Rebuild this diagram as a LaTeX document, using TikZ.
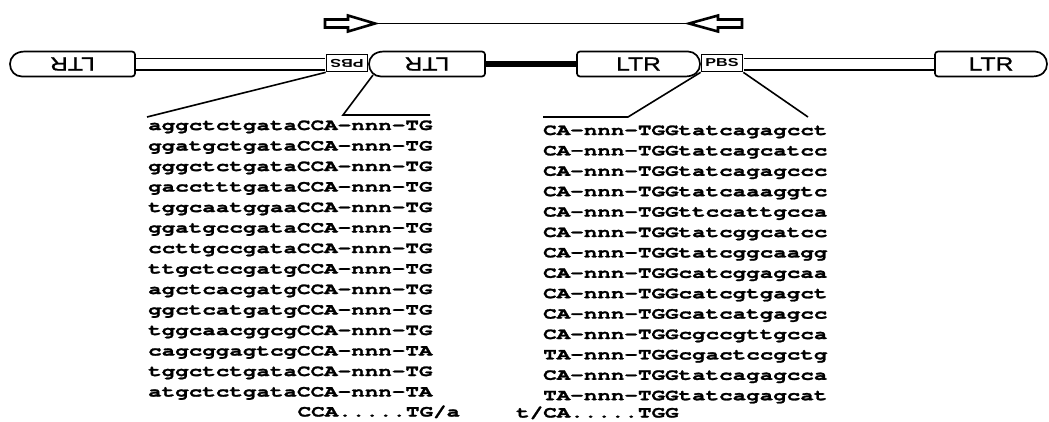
\documentclass[tikz,border=0pt]{standalone}
\usepackage{fontspec}
\usepackage{graphicx}
\newfontfamily\seqfont[FakeStretch=1.41,FakeBold=1.6]{texgyrecursor-bold.otf}
\newfontfamily\boxfont[FakeStretch=1.3,FakeBold=1.1]{Liberation Sans}
\newfontfamily\tagfont[FakeStretch=1.4]{Liberation Sans Bold}

% LTR outline with its rounded nose on the left / on the right
\newcommand\ltrnoseW[2]{%
  \draw[ltrline] (#1+15,76.5) .. controls (#1+5,76.5) and (#1,71) .. (#1,64)
    .. controls (#1,57.5) and (#1+5,51.5) .. (#1+15,51.5)
    [rounded corners=3pt] -- (#2,51.5) -- (#2,76.5) -- cycle;}
\newcommand\ltrnoseE[2]{%
  \draw[ltrline] (#2-15,51.5) .. controls (#2-5,51.5) and (#2,57.5) .. (#2,64)
    .. controls (#2,71) and (#2-5,76.5) .. (#2-15,76.5)
    [rounded corners=3pt] -- (#1,76.5) -- (#1,51.5) -- cycle;}

\tikzset{
  ltrline/.style={draw=black, fill=white, line width=1.7pt, line join=round},
  ltrtext/.style={inner sep=0pt, minimum height=25pt,
    font=\boxfont\fontsize{19}{19}\selectfont},
  pbsbox/.style={draw, fill=white, line width=1.7pt, minimum width=41pt,
    minimum height=17pt, inner sep=0pt,
    font=\tagfont\fontsize{11.5}{11.5}\selectfont},
  hollowbar/.style={double=white, double distance=10pt, line width=1.5pt,
    shorten <=0.85pt, shorten >=0.85pt},
  thickbar/.style={line width=5.5pt},
  fan/.style={line width=1.6pt},
  seq/.style={anchor=base west, inner sep=0pt,
    font=\seqfont\fontsize{16}{16}\selectfont},
  blockarrow/.style={draw, fill=white, line width=2.6pt, line join=miter},
}

\begin{document}
\begin{tikzpicture}[x=1pt, y=-1pt]
\useasboundingbox (0,0) rectangle (1049,421);

% proviral segments
\ltrnoseW{10}{135}
\ltrnoseW{369}{485}
\ltrnoseE{577}{700}
\ltrnoseE{935}{1047}

\node[ltrtext, minimum width=125pt] (ltrA) at (72.5,64) {\rotatebox{180}{LTR}};
\node[ltrtext, minimum width=116pt] (ltrB) at (427,64) {\rotatebox{180}{LTR}};
\node[ltrtext, minimum width=123pt] (ltrC) at (638.5,64) {LTR};
\node[ltrtext, minimum width=112pt] (ltrD) at (991,64) {LTR};

\node[pbsbox] (pbsL) at (347,63) {\rotatebox{180}{PBS}};
\node[pbsbox] (pbsR) at (722,63) {PBS};

\draw[hollowbar] (ltrA.east) -- (ltrA.east -| pbsL.west);
\draw[hollowbar] (ltrD.west -| pbsR.east) -- (ltrD.west);
\draw[thickbar] (ltrB.east) -- (ltrC.west);

% primers on top
\draw[blockarrow] (325,19.5) -- (348,19.5) -- (348,15.5) -- (375,23.5)
  -- (348,31.5) -- (348,27.5) -- (325,27.5) -- cycle;
\draw[blockarrow] (742,19.5) -- (718,19.5) -- (718,15.5) -- (689,23.5)
  -- (718,31.5) -- (718,27.5) -- (742,27.5) -- cycle;
\coordinate (tipL) at (376,23.5);
\coordinate (tipR) at (688,23.5);
\draw[line width=1.3pt] (tipL) -- (tipR);

% leaders down to the sequence columns
\coordinate (noseB) at (373,75);
\coordinate (fanA) at (147,117);
\coordinate (fanB1) at (343,115);
\coordinate (fanB2) at (430,115);
\coordinate (fanC1) at (628,117);
\coordinate (fanC2) at (543,117);
\coordinate (fanD) at (808,117);
\draw[fan] (pbsL.south west) -- (fanA);
\draw[fan] (noseB) -- (fanB1) -- (fanB2);
\draw[fan] (pbsR.south west) -- (fanC1) -- (fanC2);
\draw[fan] (pbsR.south east) -- (fanD);

% left column
\foreach \s [count=\i] in {aggctctgataCCA-nnn-TG, ggatgctgataCCA-nnn-TG,
  gggctctgataCCA-nnn-TG, gacctttgataCCA-nnn-TG, tggcaatggaaCCA-nnn-TG,
  ggatgccgataCCA-nnn-TG, ccttgccgataCCA-nnn-TG, ttgctccgatgCCA-nnn-TG,
  agctcacgatgCCA-nnn-TG, ggctcatgatgCCA-nnn-TG, tggcaacggcgCCA-nnn-TG,
  cagcggagtcgCCA-nnn-TA, tggctctgataCCA-nnn-TG, atgctctgataCCA-nnn-TA}
  \node[seq] (l\i) at (148,{130+20.5*(\i-1)}) {\s};

% right column
\foreach \s [count=\i] in {CA-nnn-TGGtatcagagcct, CA-nnn-TGGtatcagcatcc,
  CA-nnn-TGGtatcagagccc, CA-nnn-TGGtatcaaaggtc, CA-nnn-TGGttccattgcca,
  CA-nnn-TGGtatcggcatcc, CA-nnn-TGGtatcggcaagg, CA-nnn-TGGcatcggagcaa,
  CA-nnn-TGGcatcgtgagct, CA-nnn-TGGcatcatgagcc, CA-nnn-TGGcgccgttgcca,
  TA-nnn-TGGcgactccgctg, CA-nnn-TGGtatcagagcca, TA-nnn-TGGtatcagagcat}
  \node[seq] (r\i) at (543,{135+20.4*(\i-1)}) {\s};

% consensus lines
\node[seq] (lcons) at (297.5,416.5) {CCA.....TG/a};
\node[seq] (rcons) at (516,417.5) {t/CA.....TGG};
\end{tikzpicture}
\end{document}
